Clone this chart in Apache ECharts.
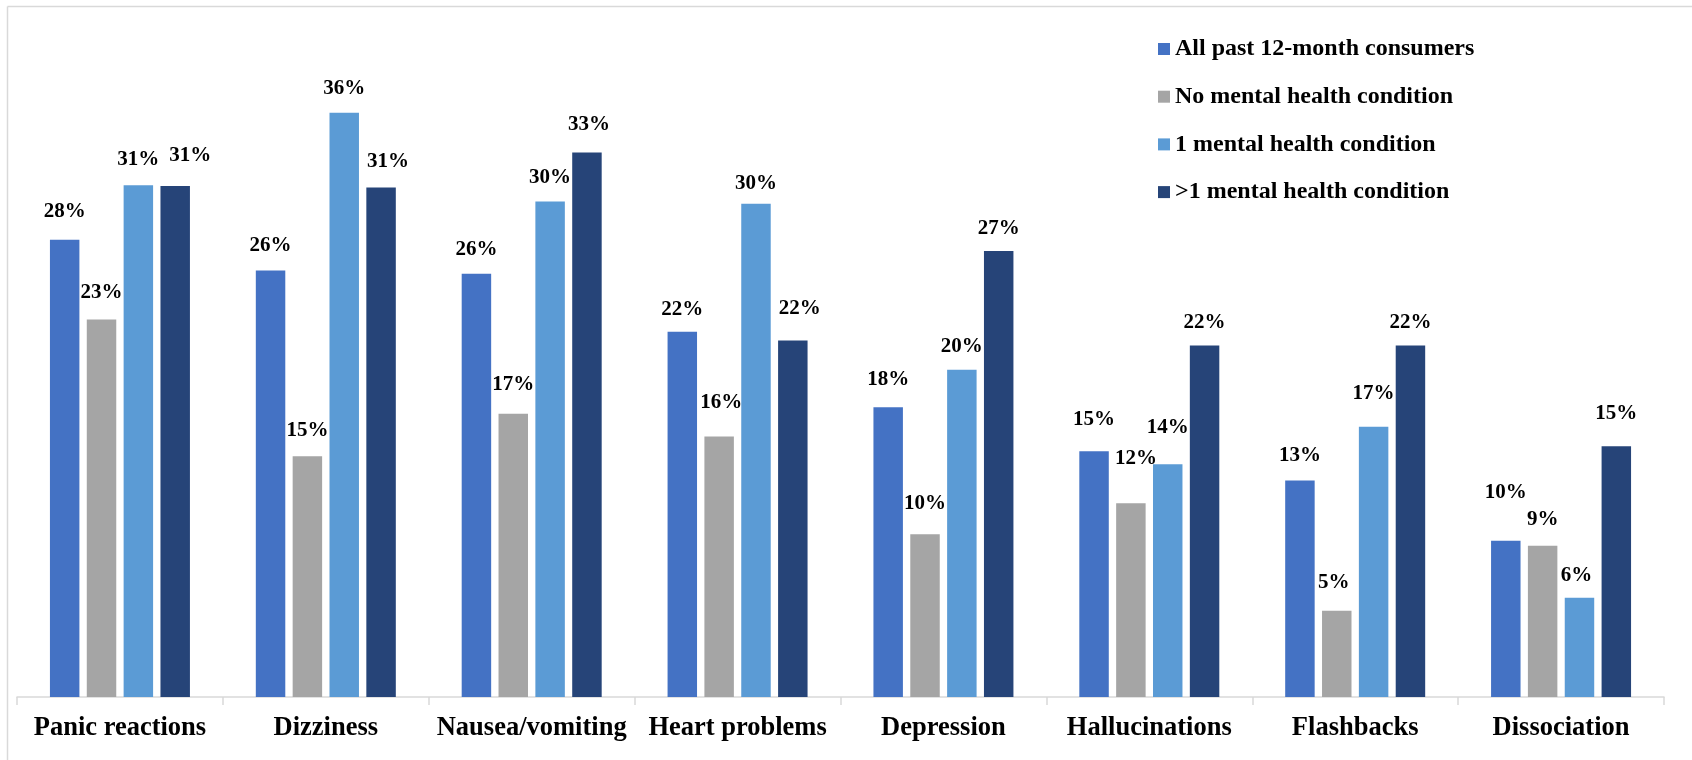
<!DOCTYPE html>
<html>
<head>
<meta charset="utf-8">
<script src="https://cdn.jsdelivr.net/npm/echarts@6/dist/echarts.min.js"></script>
<style>
html,body{margin:0;padding:0;background:#fff;}
#c{width:1692px;height:760px;}
</style>
</head>
<body>
<div id="c"></div>
<script>
const categories = ['Panic reactions','Dizziness','Nausea/vomiting','Heart problems','Depression','Hallucinations','Flashbacks','Dissociation'];
const seriesNames = ['All past 12-month consumers','No mental health condition','1 mental health condition','>1 mental health condition'];
const allConsumers = [28.1, 26.2, 26.0, 22.45, 17.8, 15.1, 13.3, 9.6];
const noCondition = [23.2, 14.8, 17.4, 16.0, 10.0, 11.9, 5.3, 9.3];
const oneCondition = [31.45, 35.9, 30.45, 30.3, 20.1, 14.3, 16.6, 6.1];
const multiCondition = [31.4, 31.3, 33.45, 21.9, 27.4, 21.6, 21.6, 15.4];
const colors = ['#4472C4','#A5A5A5','#5B9BD5','#264478'];
const seriesData = [allConsumers, noCondition, oneCondition, multiCondition];

// label placement nudges (style only): gap above bar top [category][series], horizontal shift
const labelGap = [[30,28,27,32],[27,27,26,28],[26,31,25,30],[24,36,22,33],[29,32,25,24],[33,46,38,24],[26,30,35,24],[50,28,24,34]];
const labelDx = [[0,0,0,15],[0,0,0,7],[0,0,0,2],[0,2,0,7],[0,0,0,0],[0,5,0,0],[0,-3,0,0],[0,0,-3,0]];

const font = '"Liberation Serif", "Times New Roman", serif';
const chart = echarts.init(document.getElementById('c'));
chart.setOption({
  animation: false,
  color: colors,
  graphic: [
    {type:'line', shape:{x1:7.5,y1:6.5,x2:1692,y2:6.5}, style:{stroke:'#d9d9d9',lineWidth:1.5}},
    {type:'line', shape:{x1:7.5,y1:6.5,x2:7.5,y2:760}, style:{stroke:'#d9d9d9',lineWidth:1.5}}
  ],
  legend: {
    orient: 'vertical',
    left: 1153,
    top: 32,
    itemWidth: 12,
    itemHeight: 12,
    itemGap: 23.7,
    icon: 'rect',
    textStyle: {fontFamily: font, fontWeight: 'bold', fontSize: 24, color: '#000'},
    data: seriesNames
  },
  grid: {left: 17, right: 28, top: 46, bottom: 63, containLabel: false},
  xAxis: {
    type: 'category',
    data: categories,
    axisLine: {lineStyle: {color: '#d9d9d9', width: 1.5}},
    axisTick: {show: true, length: 8, lineStyle: {color: '#d9d9d9', width: 1.5}},
    axisLabel: {fontFamily: font, fontWeight: 'bold', fontSize: 26.5, color: '#000', margin: 18, interval: 0}
  },
  yAxis: {
    type: 'value',
    min: 0, max: 40,
    show: false,
    splitLine: {show: false}
  },
  series: seriesData.map((d, i) => ({
    name: seriesNames[i],
    type: 'bar',
    data: d.map((v, j) => ({
      value: v,
      label: {distance: labelGap[j][i] - 12, offset: [labelDx[j][i], 0]}
    })),
    barGap: '25%',
    barCategoryGap: '32%',
    itemStyle: {color: colors[i]},
    label: {
      show: true,
      position: 'top',
      fontFamily: font,
      fontWeight: 'bold',
      fontSize: 21,
      color: '#000',
      formatter: p => Math.round(p.value) + '%'
    }
  }))
});
</script>
</body>
</html>
